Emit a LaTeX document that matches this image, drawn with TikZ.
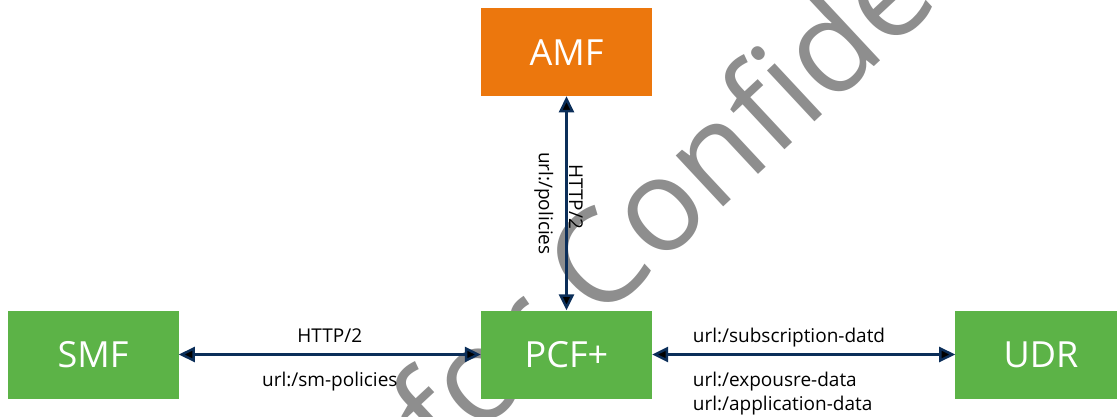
\documentclass[tikz,border=0pt]{standalone}
\usepackage{fontspec}
\setmainfont{Open Sans}
\usetikzlibrary{positioning,arrows.meta}
\definecolor{nfgreen}{HTML}{5CB347}
\definecolor{nforange}{HTML}{EC770D}
\definecolor{linkblue}{HTML}{0B2E59}
\definecolor{markgray}{HTML}{8E8E8E}
\tikzset{
	diagram/.style={x=1pt,y=1pt,node distance=214pt},
	nf/.style={rectangle,minimum width=171pt,minimum height=88pt,inner sep=0pt,
		text=white,font=\fontsize{36}{40}\selectfont},
	nf green/.style={nf,fill=nfgreen},
	nf orange/.style={nf,fill=nforange},
	link/.style={{Triangle[length=16pt,width=15pt]}-{Triangle[length=16pt,width=15pt]},
		line width=2.5pt,draw=linkblue},
	msg/.style={font=\fontsize{19}{24}\selectfont,inner sep=0pt},
	watermark/.style={font=\fontsize{130}{130}\selectfont,text=markgray,rotate=43,
		anchor=base west,inner sep=0pt}
}

\begin{document}
\begin{tikzpicture}[diagram]
	\clip (-566.5,-61.5) rectangle (550.5,354.5);
	\node[watermark] (mark) at (-121.5,-112) {for Confidential};
	
	\node[nf green] (pcf) {PCF+};
	\node[nf orange] (amf) [above=of pcf] {AMF};
	\node[nf green] (smf) [left=302pt of pcf] {SMF};
	\node[nf green] (udr) [right=303pt of pcf] {UDR};
	
	
	\path[link] (amf) edge node[msg,pos=0.47,rotate=-90,anchor=south,inner sep=1.5pt] {HTTP/2}
		node[msg,midway,rotate=-90,anchor=north,inner sep=12pt] {url:/policies} (pcf);
	\path[link] (smf) edge node[msg,anchor=base,yshift=12pt] {HTTP/2}
		node[msg,anchor=base,yshift=-32pt] {url:/sm-policies} (pcf);
	\path[link] (pcf) edge node[msg,pos=0.13,anchor=base west,yshift=12pt] {url:/subscription-datd}
		node[msg,pos=0.13,anchor=north west,yshift=-16.6pt,align=left] {url:/expousre-data\\url:/application-data} (udr);
	
	
\end{tikzpicture}
\end{document}
